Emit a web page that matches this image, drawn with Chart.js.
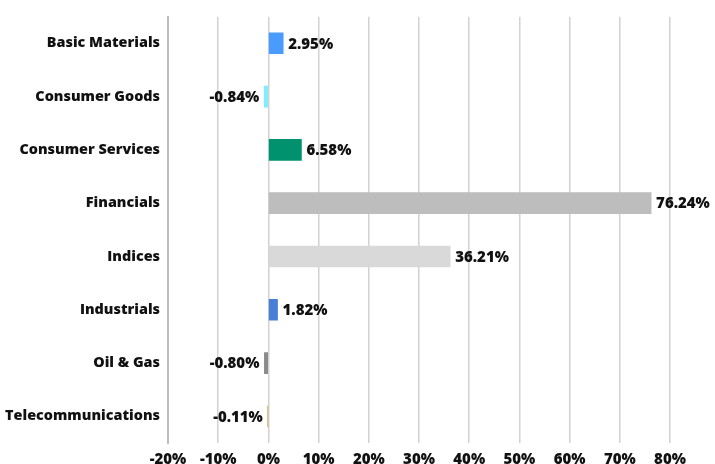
<!DOCTYPE html>
<html>
<head>
<meta charset="utf-8">
<script src="https://cdn.jsdelivr.net/npm/chart.js@4"></script>
<style>
  html, body { margin: 0; padding: 0; background: #fff; }
  #wrap { width: 715px; height: 464px; }
</style>
</head>
<body>
<div id="wrap"><canvas id="bar-chart"></canvas></div>
<script>
const sectors = [
  "Basic Materials",
  "Consumer Goods",
  "Consumer Services",
  "Financials",
  "Indices",
  "Industrials",
  "Oil & Gas",
  "Telecommunications",
];
const changes = [2.95, -0.84, 6.58, 76.24, 36.21, 1.82, -0.8, -0.11];
const barColors = [
  "#4a9bff",
  "#82ecff",
  "#00926e",
  "#bdbdbd",
  "#d9d9d9",
  "#4a7fd8",
  "#8a8a8a",
  "#c9a443",
];
const xTicks = [-20, -10, 0, 10, 20, 30, 40, 50, 60, 70, 80];

const FONT = "'Open Sans', sans-serif";

// value labels next to each bar end
const valueLabels = {
  id: "valueLabels",
  afterDatasetsDraw(chart) {
    const ctx = chart.ctx;
    const meta = chart.getDatasetMeta(0);
    ctx.save();
    ctx.font = "800 15px " + FONT;
    ctx.fillStyle = "#111";
    ctx.textBaseline = "middle";
    meta.data.forEach((bar, i) => {
      const v = changes[i];
      const txt = v.toFixed(2) + "%";
      if (v >= 0) {
        ctx.textAlign = "left";
        ctx.fillText(txt, bar.x + 5, bar.y + 1);
      } else {
        ctx.textAlign = "right";
        ctx.fillText(txt, bar.x - 5, bar.y + 1);
      }
    });
    ctx.restore();
  },
};

new Chart(document.getElementById("bar-chart"), {
  type: "bar",
  data: {
    labels: sectors,
    datasets: [
      {
        data: changes,
        backgroundColor: barColors,
        barThickness: 21,
      },
    ],
  },
  options: {
    indexAxis: "y",
    responsive: true,
    maintainAspectRatio: false,
    animation: false,
    layout: { padding: { top: 14, right: 45, left: 0, bottom: 0 } },
    plugins: {
      legend: { display: false },
      tooltip: { enabled: false },
    },
    scales: {
      x: {
        min: -20,
        max: 80,
        afterBuildTicks: (scale) => {
          scale.ticks = xTicks.map((v) => ({ value: v }));
        },
        grid: { color: "#d2d2d2", lineWidth: 1.5, drawTicks: false },
        border: { display: false },
        ticks: {
          padding: 8,
          color: "#111",
          font: { family: FONT, size: 15, weight: "800" },
          callback: (v) => v + "%",
        },
        afterFit: (scale) => {
          scale.height = 21;
        },
      },
      y: {
        grid: { display: false, drawTicks: false, tickLength: 0 },
        border: { display: true, color: "#bdbdbd", width: 2 },
        ticks: {
          padding: 8,
          color: "#111",
          font: { family: FONT, size: 14.4, weight: "800" },
        },
        afterFit: (scale) => {
          scale.width = 168;
        },
      },
    },
  },
  plugins: [valueLabels],
});
</script>
</body>
</html>
